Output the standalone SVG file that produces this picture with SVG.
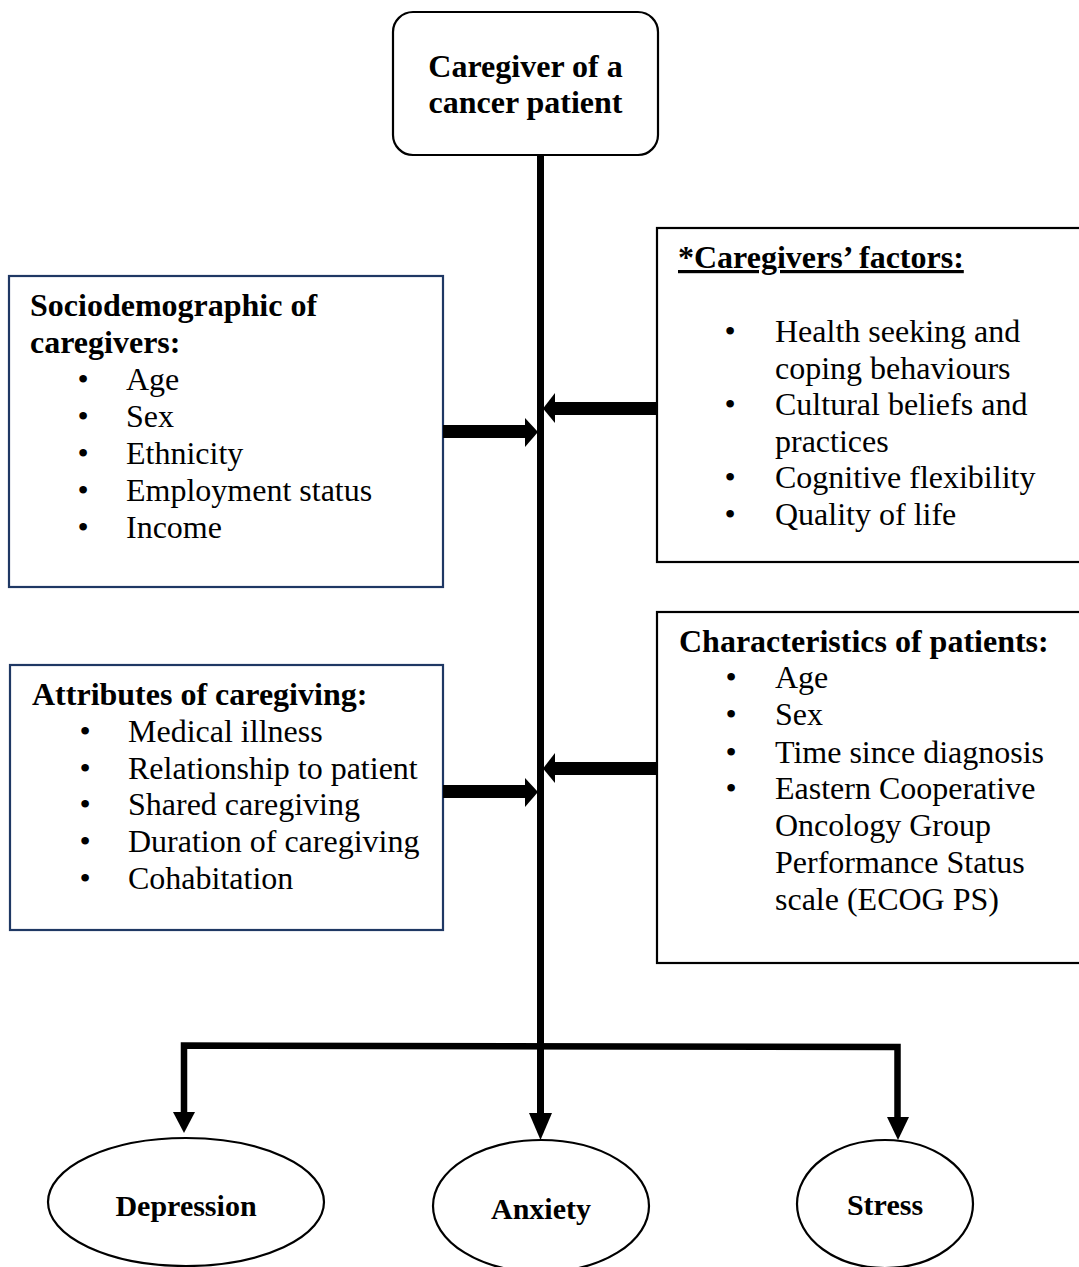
<svg xmlns="http://www.w3.org/2000/svg" width="1079" height="1267" viewBox="0 0 1079 1267">
<style>
text{font-family:"Liberation Serif","Times New Roman",serif;font-size:32px;fill:#000}
.b{font-weight:bold}
.bul{text-anchor:middle}
.navy{fill:#fff;stroke:#1f3864;stroke-width:2.2}
.blk{fill:#fff;stroke:#000;stroke-width:2.2}
.ln{stroke:#000;fill:none}
.hd{fill:#000}
.lbl{font-weight:bold;font-size:30px;text-anchor:middle}
</style>
<g id="top">
<rect x="393" y="12" width="265" height="143" rx="20" class="blk"/>
<text class="b" x="525.5" y="77" text-anchor="middle">Caregiver of a</text>
<text class="b" x="525.5" y="113" text-anchor="middle">cancer patient</text>
</g>
<g id="socio">
<rect x="9" y="276" width="434" height="311" class="navy"/>
<text class="b" x="30" y="316">Sociodemographic of</text>
<text class="b" x="30" y="353">caregivers:</text>
<text class="bul" x="83" y="390">•</text><text x="126" y="390">Age</text>
<text class="bul" x="83" y="427">•</text><text x="126" y="427">Sex</text>
<text class="bul" x="83" y="464">•</text><text x="126" y="464">Ethnicity</text>
<text class="bul" x="83" y="501">•</text><text x="126" y="501">Employment status</text>
<text class="bul" x="83" y="538">•</text><text x="126" y="538">Income</text>
</g>
<g id="factors">
<rect x="657" y="228" width="440" height="334" class="blk"/>
<text class="b" x="678" y="268" text-decoration="underline">*Caregivers’ factors:</text>
<text class="bul" x="730" y="342">•</text><text x="775" y="342">Health seeking and</text>
<text x="775" y="379">coping behaviours</text>
<text class="bul" x="730" y="415">•</text><text x="775" y="415">Cultural beliefs and</text>
<text x="775" y="452">practices</text>
<text class="bul" x="730" y="488">•</text><text x="775" y="488">Cognitive flexibility</text>
<text class="bul" x="730" y="525">•</text><text x="775" y="525">Quality of life</text>
</g>
<g id="attributes">
<rect x="10" y="665" width="433" height="265" class="navy"/>
<text class="b" x="32" y="705">Attributes of caregiving:</text>
<text class="bul" x="85" y="742">•</text><text x="128" y="742">Medical illness</text>
<text class="bul" x="85" y="779">•</text><text x="128" y="779">Relationship to patient</text>
<text class="bul" x="85" y="815">•</text><text x="128" y="815">Shared caregiving</text>
<text class="bul" x="85" y="852">•</text><text x="128" y="852">Duration of caregiving</text>
<text class="bul" x="85" y="889">•</text><text x="128" y="889">Cohabitation</text>
</g>
<g id="patients">
<rect x="657" y="612" width="440" height="351" class="blk"/>
<text class="b" x="679" y="652">Characteristics of patients:</text>
<text class="bul" x="731" y="688">•</text><text x="775" y="688">Age</text>
<text class="bul" x="731" y="725">•</text><text x="775" y="725">Sex</text>
<text class="bul" x="731" y="763">•</text><text x="775" y="763">Time since diagnosis</text>
<text class="bul" x="731" y="799">•</text><text x="775" y="799">Eastern Cooperative</text>
<text x="775" y="836">Oncology Group</text>
<text x="775" y="873">Performance Status</text>
<text x="775" y="910">scale (ECOG PS)</text>
</g>
<g id="depression">
<ellipse cx="186" cy="1202" rx="138" ry="64" class="blk"/>
<text class="lbl" x="186" y="1216">Depression</text>
</g>
<g id="anxiety">
<ellipse cx="541" cy="1206" rx="108" ry="66" class="blk"/>
<text class="lbl" x="541" y="1219">Anxiety</text>
</g>
<g id="stress">
<ellipse cx="885" cy="1204" rx="88" ry="64" class="blk"/>
<text class="lbl" x="885" y="1215">Stress</text>
</g>
<g id="connectors">
<line x1="540.5" y1="155" x2="540.5" y2="1115" class="ln" stroke-width="7"/>
<polygon points="529,1113 552,1113 540.5,1140" class="hd"/>
<line x1="443" y1="431.5" x2="526" y2="431.5" class="ln" stroke-width="13"/>
<polygon points="525,418 538,432 525,447" class="hd"/>
<line x1="657" y1="408.5" x2="554" y2="408.5" class="ln" stroke-width="13"/>
<polygon points="555,393 543,408.5 555,423" class="hd"/>
<line x1="443" y1="791.5" x2="526" y2="791.5" class="ln" stroke-width="13"/>
<polygon points="525,778 538,792 525,807" class="hd"/>
<line x1="657" y1="768.5" x2="554" y2="768.5" class="ln" stroke-width="13"/>
<polygon points="555,753 543,768.5 555,783" class="hd"/>
<polyline points="184,1113 184,1045.5 897.5,1047 897.5,1118" class="ln" stroke-width="6.5"/>
<polygon points="173,1112 195,1112 184,1133" class="hd"/>
<polygon points="887,1117 909,1117 898,1140" class="hd"/>
</g>
</svg>
